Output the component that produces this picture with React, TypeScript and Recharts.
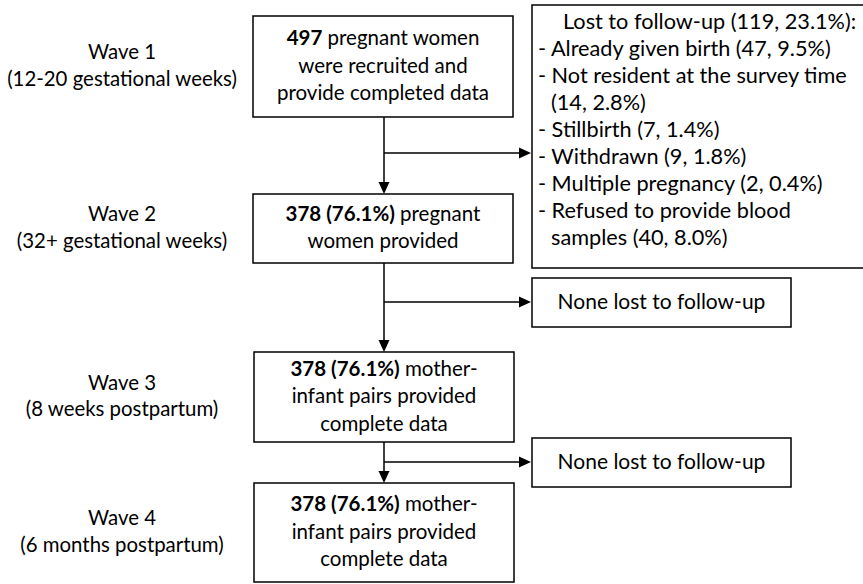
import React from 'react';
import { ComposedChart, XAxis, YAxis, ReferenceArea, ReferenceLine } from 'recharts';

const W = 863;
const H = 584;
const FONT = 'Lato, "Noto Sans", sans-serif';

// left column: survey waves
const waveNames = ['Wave 1', 'Wave 2', 'Wave 3', 'Wave 4'];
const waveTimes = ['(12-20 gestational weeks)', '(32+ gestational weeks)', '(8 weeks postpartum)', '(6 months postpartum)'];

// main column: retained participants
const keptBold = ['497', '378 (76.1%)', '378 (76.1%)', '378 (76.1%)'];
const keptFirst = [' pregnant women', ' pregnant', ' mother-', ' mother-'];
const keptMore = [
  ['were recruited and', 'provide completed data'],
  ['women provided'],
  ['infant pairs provided', 'complete data'],
  ['infant pairs provided', 'complete data'],
];

// right column: losses between waves
const lostTotal = 119;
const lostTotalPct = '23.1%';
const lostReasons = [
  ['Already given birth'],
  ['Not resident at the survey time', ''],
  ['Stillbirth'],
  ['Withdrawn'],
  ['Multiple pregnancy'],
  ['Refused to provide blood', 'samples'],
];
const lostCounts = [47, 14, 7, 9, 2, 40];
const lostPcts = ['9.5%', '2.8%', '1.4%', '1.8%', '0.4%', '8.0%'];
const noLossText = 'None lost to follow-up';

// layout, in the chart's own x / y units
const mainBoxes = [
  { x1: 253, x2: 513, y1: 16, y2: 117 },
  { x1: 253, x2: 513, y1: 194, y2: 263 },
  { x1: 254, x2: 514, y1: 352, y2: 442 },
  { x1: 254, x2: 514, y1: 483, y2: 582 },
];
const lostBox = { x1: 532, x2: 872, y1: 5, y2: 268 };
const noLossBoxes = [
  { x1: 532, x2: 791, y1: 278, y2: 327 },
  { x1: 532, x2: 791, y1: 438, y2: 487 },
];
const spineX = 384;
const branchY = [153, 302, 462];

type Line = { bold?: string; text: string };

const centeredLabel = (lines: Line[], lh: number, fs: number) => (props: any) => {
  const vb = props.viewBox;
  if (!vb) return null;
  const cx = vb.x + vb.width / 2;
  const top = vb.y + vb.height / 2 - ((lines.length - 1) * lh) / 2;
  return (
    <text textAnchor="middle" fontFamily={FONT} fontSize={fs} fill="#000">
      {lines.map((l, i) => (
        <tspan key={i} x={cx} y={top + i * lh + fs * 0.3}>
          {l.bold ? <tspan fontWeight={700}>{l.bold}</tspan> : null}
          {l.text}
        </tspan>
      ))}
    </text>
  );
};

const lostLabel = (props: any) => {
  const vb = props.viewBox;
  if (!vb) return null;
  const fs = 21.7;
  const rows: { x: number; s: string }[] = [
    { x: vb.x + 31, s: `Lost to follow-up (${lostTotal}, ${lostTotalPct}):` },
  ];
  lostReasons.forEach((parts, i) => {
    parts.forEach((p, j) => {
      let s = p;
      if (j === parts.length - 1) s = (p ? p + ' ' : '') + `(${lostCounts[i]}, ${lostPcts[i]})`;
      rows.push(j === 0 ? { x: vb.x + 6, s: '- ' + s } : { x: vb.x + 19, s });
    });
  });
  return (
    <text fontFamily={FONT} fontSize={fs} fill="#000">
      {rows.map((r, i) => (
        <tspan key={i} x={r.x} y={vb.y + 17 + i * 27 + fs * 0.32}>
          {r.s}
        </tspan>
      ))}
    </text>
  );
};

const arrowShape = (dir: 'down' | 'right') => (p: any) => {
  const { x1, y1, x2, y2 } = p;
  const head =
    dir === 'down'
      ? `${x2 - 5.5},${y2 - 12} ${x2 + 5.5},${y2 - 12} ${x2},${y2}`
      : `${x2 - 12},${y2 - 5.5} ${x2 - 12},${y2 + 5.5} ${x2},${y2}`;
  const ex = dir === 'right' ? x2 - 10 : x2;
  const ey = dir === 'down' ? y2 - 10 : y2;
  return (
    <g>
      <line x1={x1} y1={y1} x2={ex} y2={ey} stroke="#000" strokeWidth={1.5} />
      <polygon points={head} fill="#000" />
    </g>
  );
};

export default function App() {
  return (
    <div style={{ position: 'fixed', left: 0, top: 0, width: W, height: H, background: '#fff' }}>
      <ComposedChart width={W} height={H} margin={{ top: 0, right: 0, bottom: 0, left: 0 }}>
        <XAxis type="number" dataKey="x" domain={[0, W]} allowDataOverflow hide />
        <YAxis type="number" dataKey="y" domain={[0, H]} allowDataOverflow reversed hide />

        {/* vertical spine with arrowheads into the next wave */}
        {mainBoxes.slice(0, -1).map((b, i) => (
          <ReferenceLine
            key={`down-${i}`}
            segment={[
              { x: spineX, y: b.y2 },
              { x: spineX, y: mainBoxes[i + 1].y1 },
            ]}
            shape={arrowShape('down')}
          />
        ))}
        {/* side branches to the loss boxes */}
        {branchY.map((y, i) => (
          <ReferenceLine
            key={`side-${i}`}
            segment={[
              { x: spineX, y },
              { x: i === 0 ? lostBox.x1 - 1 : noLossBoxes[i - 1].x1 - 1, y },
            ]}
            shape={arrowShape('right')}
          />
        ))}

        {waveNames.map((w, i) => (
          <ReferenceArea
            key={`wave-${i}`}
            x1={0}
            x2={244}
            y1={mainBoxes[i].y1}
            y2={mainBoxes[i].y2}
            fill="none"
            stroke="none"
            label={centeredLabel([{ text: w }, { text: waveTimes[i] }], 26.5, 20.4)}
          />
        ))}

        {mainBoxes.map((b, i) => (
          <ReferenceArea
            key={`box-${i}`}
            {...b}
            fill="#fff"
            fillOpacity={1}
            stroke="#000"
            strokeWidth={1.5}
            label={centeredLabel(
              [{ bold: keptBold[i], text: keptFirst[i] }, ...keptMore[i].map((t) => ({ text: t }))],
              27.5,
              20.5
            )}
          />
        ))}

        <ReferenceArea
          {...lostBox}
          ifOverflow="visible"
          fill="#fff"
          fillOpacity={1}
          stroke="#000"
          strokeWidth={1.5}
          label={lostLabel}
        />

        {noLossBoxes.map((b, i) => (
          <ReferenceArea
            key={`none-${i}`}
            {...b}
            fill="#fff"
            fillOpacity={1}
            stroke="#000"
            strokeWidth={1.5}
            label={centeredLabel([{ text: noLossText }], 27, 21)}
          />
        ))}
      </ComposedChart>
    </div>
  );
}
